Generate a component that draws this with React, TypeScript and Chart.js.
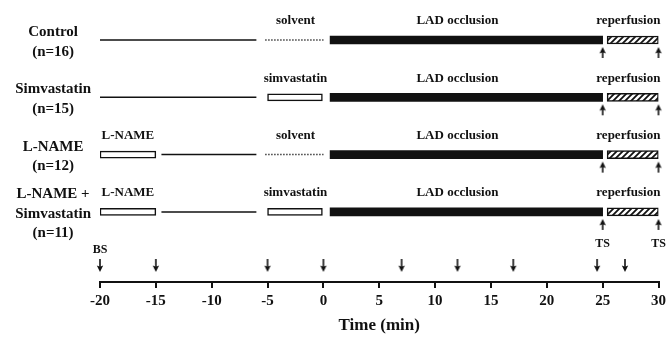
import React, { useEffect, useRef } from 'react';
import { Chart, registerables } from 'chart.js';

Chart.register(...registerables);

const FONT = "'Liberation Serif', 'Times New Roman', Times, serif";
const INK = '#111';

// ---- data ----
const rowLabels: string[][] = [
  ['Control', '(n=16)'],
  ['Simvastatin', '(n=15)'],
  ['L-NAME', '(n=12)'],
  ['L-NAME +', 'Simvastatin', '(n=11)'],
];
type Seg = [number, number] | null;
const baselineSegments: Seg[] = [[-20, -6], [-20, -6], [-14.5, -6], [-14.5, -6]];
const solventSegments: Seg[] = [[-5.2, 0], null, [-5.2, 0], null];
const lnameBars: Seg[] = [null, null, [-20, -15], [-20, -15]];
const simvastatinBars: Seg[] = [null, [-5, 0], null, [-5, 0]];
const occlusionBars: Seg[] = [[0.6, 25], [0.6, 25], [0.6, 25], [0.6, 25]];
const reperfusionBars: Seg[] = [[25.4, 30], [25.4, 30], [25.4, 30], [25.4, 30]];
const tsArrowTimes = [25, 30];
const samplingTimes = [-20, -15, -5, 0, 7, 12, 17, 24.5, 27];
const phaseLabels: { t: number; text: string }[][] = [
  [{ t: -2.5, text: 'solvent' }, { t: 12, text: 'LAD occlusion' }, { t: 27.3, text: 'reperfusion' }],
  [{ t: -2.5, text: 'simvastatin' }, { t: 12, text: 'LAD occlusion' }, { t: 27.3, text: 'reperfusion' }],
  [{ t: -17.5, text: 'L-NAME' }, { t: -2.5, text: 'solvent' }, { t: 12, text: 'LAD occlusion' }, { t: 27.3, text: 'reperfusion' }],
  [{ t: -17.5, text: 'L-NAME' }, { t: -2.5, text: 'simvastatin' }, { t: 12, text: 'LAD occlusion' }, { t: 27.3, text: 'reperfusion' }],
];
const X_MIN = -20;
const X_MAX = 30;
const X_STEP = 5;

// ---- layout ----
const W = 670;
const H = 338;
const AREA_TOP = 6;
const AREA_BOTTOM = 282;
const ROW0_PX = 40;
const ROW_GAP_PX = 57.3;
const Y_MIN = -(ROW0_PX - AREA_TOP) / ROW_GAP_PX;
const Y_MAX = Y_MIN + (AREA_BOTTOM - AREA_TOP) / ROW_GAP_PX;

function arrowImage(headOffset: number, tailOffset: number): HTMLCanvasElement {
  const half = Math.ceil(Math.max(Math.abs(headOffset), Math.abs(tailOffset))) + 2;
  const c = document.createElement('canvas');
  c.width = 10;
  c.height = half * 2;
  const g = c.getContext('2d')!;
  const cx = 5;
  const hy = half + headOffset;
  const ty = half + tailOffset;
  const dir = Math.sign(tailOffset - headOffset);
  g.strokeStyle = INK;
  g.lineWidth = 1.6;
  g.beginPath();
  g.moveTo(cx, ty);
  g.lineTo(cx, hy + dir * 4);
  g.stroke();
  g.fillStyle = INK;
  g.beginPath();
  g.moveTo(cx, hy);
  g.lineTo(cx - 3.2, hy + dir * 6.5);
  g.lineTo(cx, hy + dir * 5.2);
  g.lineTo(cx + 3.2, hy + dir * 6.5);
  g.closePath();
  g.fill();
  return c;
}

function hatchPattern(ctx: CanvasRenderingContext2D): CanvasPattern {
  const c = document.createElement('canvas');
  c.width = 6;
  c.height = 6;
  const g = c.getContext('2d')!;
  g.fillStyle = '#fff';
  g.fillRect(0, 0, 6, 6);
  g.strokeStyle = INK;
  g.lineWidth = 1.8;
  g.beginPath();
  g.moveTo(-1, 7); g.lineTo(7, -1);
  g.moveTo(-4, 4); g.lineTo(4, -4);
  g.moveTo(2, 10); g.lineTo(10, 2);
  g.stroke();
  return ctx.createPattern(c, 'repeat')!;
}

function barData(segs: Seg[]) {
  const out: { x: [number, number]; y: number }[] = [];
  segs.forEach((s, i) => { if (s) out.push({ x: s, y: i }); });
  return out;
}

function lineDatasets(segs: Seg[], dash: number[]) {
  const out: any[] = [];
  segs.forEach((s, i) => {
    if (!s) return;
    out.push({
      type: 'line',
      data: [{ x: s[0], y: i }, { x: s[1], y: i }],
      borderColor: INK,
      borderWidth: 1.5,
      borderDash: dash,
      pointRadius: 0,
      fill: false,
      clip: false,
    });
  });
  return out;
}

const textPlugin = {
  id: 'protocolText',
  afterDatasetsDraw(chart: any) {
    const { ctx } = chart;
    const xs = chart.scales.x;
    const ys = chart.scales.y;
    ctx.save();
    ctx.fillStyle = INK;
    ctx.textAlign = 'center';
    ctx.textBaseline = 'middle';
    ctx.font = `bold 13px ${FONT}`;
    phaseLabels.forEach((labels, row) => {
      const py = ys.getPixelForValue(row) - 19;
      labels.forEach((l) => ctx.fillText(l.text, xs.getPixelForValue(l.t), py));
    });
    ctx.font = `bold 12px ${FONT}`;
    ctx.fillText('BS', xs.getPixelForValue(samplingTimes[0]), ys.getPixelForValue(Y_MAX) - 32);
    const lastRow = rowLabels.length - 1;
    tsArrowTimes.forEach((t) => ctx.fillText('TS', xs.getPixelForValue(t), ys.getPixelForValue(lastRow) + 32));
    ctx.restore();
  },
};

export default function App() {
  const ref = useRef<HTMLCanvasElement | null>(null);
  useEffect(() => {
    const canvas = ref.current!;
    const ctx = canvas.getContext('2d')!;
    const upArrow = arrowImage(7, 18);
    const downArrow = arrowImage(-10, -23);
    const hatch = hatchPattern(ctx);

    const datasets: any[] = [
      ...lineDatasets(baselineSegments, []),
      ...lineDatasets(solventSegments, [1.2, 1.8]),
      {
        type: 'bar', data: barData(lnameBars), backgroundColor: '#fff', borderColor: INK,
        borderWidth: 1.5, borderSkipped: false, barThickness: 7, grouped: false,
      },
      {
        type: 'bar', data: barData(simvastatinBars), backgroundColor: '#fff', borderColor: INK,
        borderWidth: 1.5, borderSkipped: false, barThickness: 7, grouped: false,
      },
      {
        type: 'bar', data: barData(occlusionBars), backgroundColor: INK, borderColor: INK,
        borderWidth: 0, borderSkipped: false, barThickness: 8, grouped: false,
      },
      {
        type: 'bar', data: barData(reperfusionBars), backgroundColor: hatch, borderColor: INK,
        borderWidth: 1.5, borderSkipped: false, barThickness: 8, grouped: false,
      },
      {
        type: 'scatter',
        data: rowLabels.flatMap((_, i) => tsArrowTimes.map((t) => ({ x: t, y: i }))),
        pointStyle: upArrow, pointRadius: 5, clip: false,
      },
      {
        type: 'scatter',
        data: samplingTimes.map((t) => ({ x: t, y: Y_MAX })),
        pointStyle: downArrow, pointRadius: 5, clip: false,
      },
    ];

    const chart = new Chart(canvas, {
      type: 'bar',
      data: { datasets },
      plugins: [textPlugin],
      options: {
        indexAxis: 'y',
        responsive: false,
        animation: false,
        events: [],
        layout: { padding: { left: 0, right: 11, top: 0, bottom: 0 } },
        plugins: { legend: { display: false }, tooltip: { enabled: false } },
        scales: {
          x: {
            type: 'linear',
            position: 'bottom',
            offset: false,
            min: X_MIN,
            max: X_MAX,
            ticks: {
              stepSize: X_STEP,
              color: INK,
              padding: 4,
              font: { family: FONT, size: 15, weight: 'bold' },
            },
            grid: { drawOnChartArea: false, drawTicks: true, tickLength: 6, color: INK, lineWidth: 2, offset: false },
            border: { display: true, color: INK, width: 2 },
            title: {
              display: true,
              text: 'Time (min)',
              color: INK,
              font: { family: FONT, size: 17, weight: 'bold' },
              padding: { top: 0, bottom: 2 },
            },
            afterFit: (s: any) => { s.height = H - AREA_BOTTOM; },
          },
          y: {
            type: 'linear',
            position: 'left',
            offset: false,
            reverse: true,
            min: Y_MIN,
            max: Y_MAX,
            afterBuildTicks: (s: any) => { s.ticks = rowLabels.map((_, i) => ({ value: i })); },
            ticks: {
              autoSkip: false,
              color: INK,
              crossAlign: 'center',
              padding: 9,
              labelOffset: 2,
              font: { family: FONT, size: 15, weight: 'bold', lineHeight: 1.3 },
              callback: (v: any) => rowLabels[v as number] ?? '',
            },
            grid: { display: false, drawTicks: false, offset: false },
            border: { display: false },
            afterFit: (s: any) => { s.width = 100; s.paddingTop = 0; s.paddingBottom = 0; },
          },
        },
      } as any,
    });
    return () => chart.destroy();
  }, []);

  return (
    <div style={{ position: 'fixed', left: 0, top: 0, width: W, height: H, background: '#fff' }}>
      <canvas ref={ref} width={W} height={H} style={{ display: 'block' }} />
    </div>
  );
}
